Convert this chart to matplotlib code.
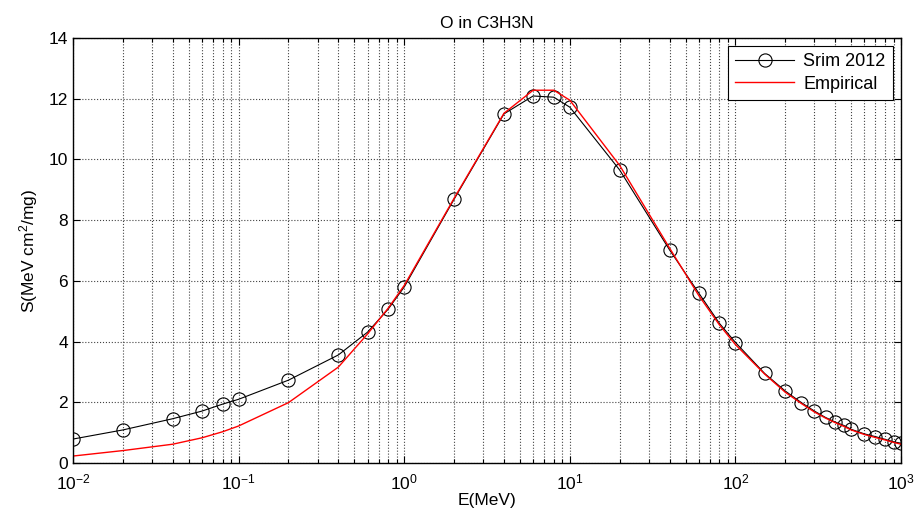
import matplotlib
matplotlib.use("Agg")
import matplotlib.pyplot as plt
from matplotlib.transforms import ScaledTranslation
from matplotlib.ticker import LogLocator, NullFormatter, LogFormatterMathtext

plt.rcParams["font.family"] = ["Liberation Sans", "DejaVu Sans"]
plt.rcParams["mathtext.fontset"] = "custom"
plt.rcParams["mathtext.rm"] = "Liberation Sans"
plt.rcParams["mathtext.it"] = "Liberation Sans"
plt.rcParams["mathtext.default"] = "regular"
plt.rcParams["axes.unicode_minus"] = False

# energies (MeV)
energy = [0.01, 0.02, 0.04, 0.06, 0.08, 0.1, 0.2, 0.4, 0.6, 0.8, 1, 2, 4, 6, 8, 10,
          20, 40, 60, 80, 100, 150, 200, 250, 300, 350, 400, 450, 500, 600, 700,
          800, 900, 1000]
# Srim 2012 stopping power
srim = [0.79, 1.09, 1.46, 1.71, 1.94, 2.10, 2.73, 3.56, 4.31, 5.07, 5.80, 8.69,
        11.50, 12.09, 12.05, 11.72, 9.65, 7.02, 5.60, 4.60, 3.97, 2.95, 2.37,
        1.99, 1.71, 1.50, 1.35, 1.24, 1.11, 0.96, 0.87, 0.78, 0.70, 0.65]
# Empirical formula
empirical = [0.23, 0.41, 0.62, 0.83, 1.03, 1.22, 1.99, 3.16, 4.25, 5.10, 5.85,
             8.72, 11.52, 12.28, 12.28, 11.95, 9.80, 7.08, 5.52, 4.55, 3.90,
             2.93, 2.33, 1.96, 1.68, 1.48, 1.33, 1.21, 1.09, 0.94, 0.84, 0.76,
             0.68, 0.62]

fig = plt.figure(figsize=(9.15, 5.17), dpi=100)
ax = fig.add_axes([0.0798, 0.1044, 0.905, 0.8221])

ax.plot(energy, srim, "-o", color="black", lw=0.8, ms=9.5, mfc="none",
        mec="black", mew=0.8, label="Srim 2012")
ax.plot(energy, empirical, "-", color="red", lw=1.0, label="Empirical")

ax.set_xscale("log")
ax.set_xlim(1e-2, 1e3)
ax.set_ylim(0, 14)
ax.set_yticks(range(0, 15, 2))
ax.xaxis.set_major_locator(LogLocator(base=10, numticks=10))
ax.xaxis.set_minor_locator(LogLocator(base=10, subs=range(2, 10), numticks=20))
ax.xaxis.set_major_formatter(LogFormatterMathtext())
ax.xaxis.set_minor_formatter(NullFormatter())

ax.grid(True, which="major", color="#444444", ls=":", lw=0.8)
ax.grid(True, which="minor", axis="x", color="#444444", ls=":", lw=0.8)
ax.tick_params(which="both", direction="in", top=True, right=True,
               labelsize=12.5, width=0.8)
ax.tick_params(which="major", length=5)
ax.tick_params(which="minor", length=3)
ax.tick_params(axis="x", which="major", pad=7)
for s in ax.spines.values():
    s.set_linewidth(1.0)

# keep the 10^3 label inside the canvas
fig.canvas.draw()
last = ax.get_xticklabels()[-1]
last.set_transform(last.get_transform() + ScaledTranslation(-0.04, 0, fig.dpi_scale_trans))

ax.set_title("O in C3H3N", fontsize=12.5, pad=7)
ax.set_xlabel("E(MeV)", fontsize=12.5, labelpad=0)
ax.set_ylabel("S(MeV cm$^2$/mg)", fontsize=12.5, labelpad=6)

leg = ax.legend(loc="upper right", fontsize=13, fancybox=False,
                edgecolor="black", framealpha=1, handlelength=3.3,
                handletextpad=0.5, borderaxespad=0.45, labelspacing=0.3)
leg.get_frame().set_linewidth(0.8)

fig.savefig("out.png", dpi=100)
